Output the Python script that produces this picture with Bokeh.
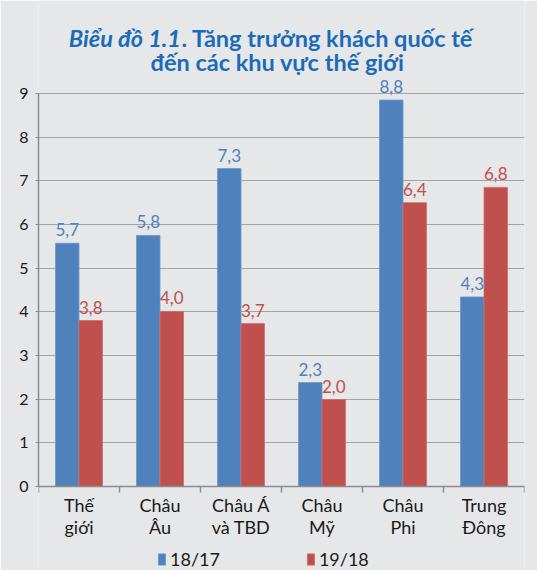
import numpy as np
from bokeh.plotting import figure
from bokeh.models import (Range1d, FixedTicker, Label, Legend, LegendItem, ColumnDataSource, LinearAxis)
from bokeh.core.properties import value
from bokeh.embed import file_html
from bokeh.resources import INLINE

categories = ["Thế\ngiới", "Châu\nÂu", "Châu Á\nvà TBD", "Châu\nMỹ", "Châu\nPhi", "Trung\nĐông"]
series_names = ["18/17", "19/18"]
values_1817 = [5.57, 5.75, 7.28, 2.38, 8.85, 4.34]
values_1918 = [3.80, 4.01, 3.73, 1.99, 6.50, 6.85]
labels_1817 = ["5,7", "5,8", "7,3", "2,3", "8,8", "4,3"]
labels_1918 = ["3,8", "4,0", "3,7", "2,0", "6,4", "6,8"]
y_ticks = [0, 1, 2, 3, 4, 5, 6, 7, 8, 9]

BLUE = "#4f81bd"
RED = "#c0504d"
BG = "#e6e7e8"
TITLE = "#1a6bb8"
FONT = "Lato"

n = len(categories)
centers = np.arange(n) + 0.5
dodge = 0.145
bw = 0.29

p = figure(width=537, height=570, output_backend="svg", toolbar_location=None,
           x_range=Range1d(0, n), y_range=Range1d(-1.924, 11.13),
           x_axis_location=None,
           min_border=0, min_border_top=0, min_border_left=38, min_border_right=13, min_border_bottom=0)
p.background_fill_color = BG
p.border_fill_color = BG
p.outline_line_color = None
p.xgrid.visible = False
p.ygrid.ticker = FixedTicker(ticks=y_ticks)
p.ygrid.grid_line_color = "#a3a3a3"
p.ygrid.grid_line_width = 1.2

src1 = ColumnDataSource(dict(x=centers - dodge, top=values_1817, lab=labels_1817))
src2 = ColumnDataSource(dict(x=centers + dodge, top=values_1918, lab=labels_1918))
r1 = p.vbar(x="x", top="top", width=bw, bottom=0, source=src1, fill_color=BLUE, line_color="#6d97c9", line_width=0.8)
r2 = p.vbar(x="x", top="top", width=bw, bottom=0, source=src2, fill_color=RED, line_color="#cc6f6c", line_width=0.8)

p.text(x="x", y="top", text="lab", source=src1, text_color=BLUE, text_font=value(FONT),
       text_font_size="17px", text_align="center", text_baseline="bottom", y_offset=-7)
p.text(x="x", y="top", text="lab", source=src2, text_color=RED, text_font=value(FONT),
       text_font_size="17px", text_align="center", text_baseline="bottom", y_offset=-7)

ya = p.yaxis[0]
ya.ticker = FixedTicker(ticks=y_ticks)
ya.bounds = (0, 9)
ya.axis_line_color = "#8c8c8c"
ya.axis_line_width = 1.5
ya.major_tick_line_color = "#8c8c8c"
ya.major_tick_out = 3
ya.major_tick_in = 0
ya.minor_tick_line_color = None
ya.major_label_text_font = FONT
ya.major_label_text_font_size = "16px"
ya.major_label_text_color = "#1a1a1a"
ya.major_label_standoff = 7

xa = LinearAxis(fixed_location=0)
xa.ticker = FixedTicker(ticks=list(centers), minor_ticks=list(range(n + 1)))
xa.major_label_overrides = {float(c): lab for c, lab in zip(centers, categories)}
xa.axis_line_color = "#8c8c8c"
xa.axis_line_width = 1.5
xa.major_tick_line_color = None
xa.major_tick_out = 0
xa.major_tick_in = 0
xa.minor_tick_line_color = "#8c8c8c"
xa.minor_tick_line_width = 1.5
xa.minor_tick_out = 6
xa.minor_tick_in = 0
xa.major_label_text_font = FONT
xa.major_label_text_font_size = "18px"
xa.major_label_text_color = "#1a1a1a"
xa.major_label_text_line_height = 0.98
xa.major_label_standoff = 2
p.add_layout(xa, "below")

p.add_layout(Label(x=1.759, y=10.282, text="Biểu đồ 1.1", text_font=FONT, text_font_size="23.5px",
                   text_font_style="bold italic", text_color=TITLE, text_align="right",
                   text_baseline="alphabetic"))
p.add_layout(Label(x=1.765, y=10.282, text=". Tăng trưởng khách quốc tế", text_font=FONT,
                   text_font_size="23.5px", text_font_style="bold", text_color=TITLE,
                   text_align="left", text_baseline="alphabetic"))
p.add_layout(Label(x=2.951, y=9.732, text="đến các khu vực thế giới", text_font=FONT,
                   text_font_size="23.5px", text_font_style="bold", text_color=TITLE,
                   text_align="center", text_baseline="alphabetic"))

legend = Legend(items=[LegendItem(label=series_names[0], renderers=[r1]),
                       LegendItem(label=series_names[1], renderers=[r2])],
                orientation="horizontal", location=(119, 0),
                glyph_width=9, glyph_height=14, label_standoff=4, spacing=86,
                padding=0, margin=0, border_line_color=None, background_fill_alpha=0,
                label_text_font=FONT, label_text_font_size="18px", label_text_color="#1a1a1a",
                label_height=14)
p.add_layout(legend, "center")

open("out.html", "w").write(file_html(p, INLINE))
